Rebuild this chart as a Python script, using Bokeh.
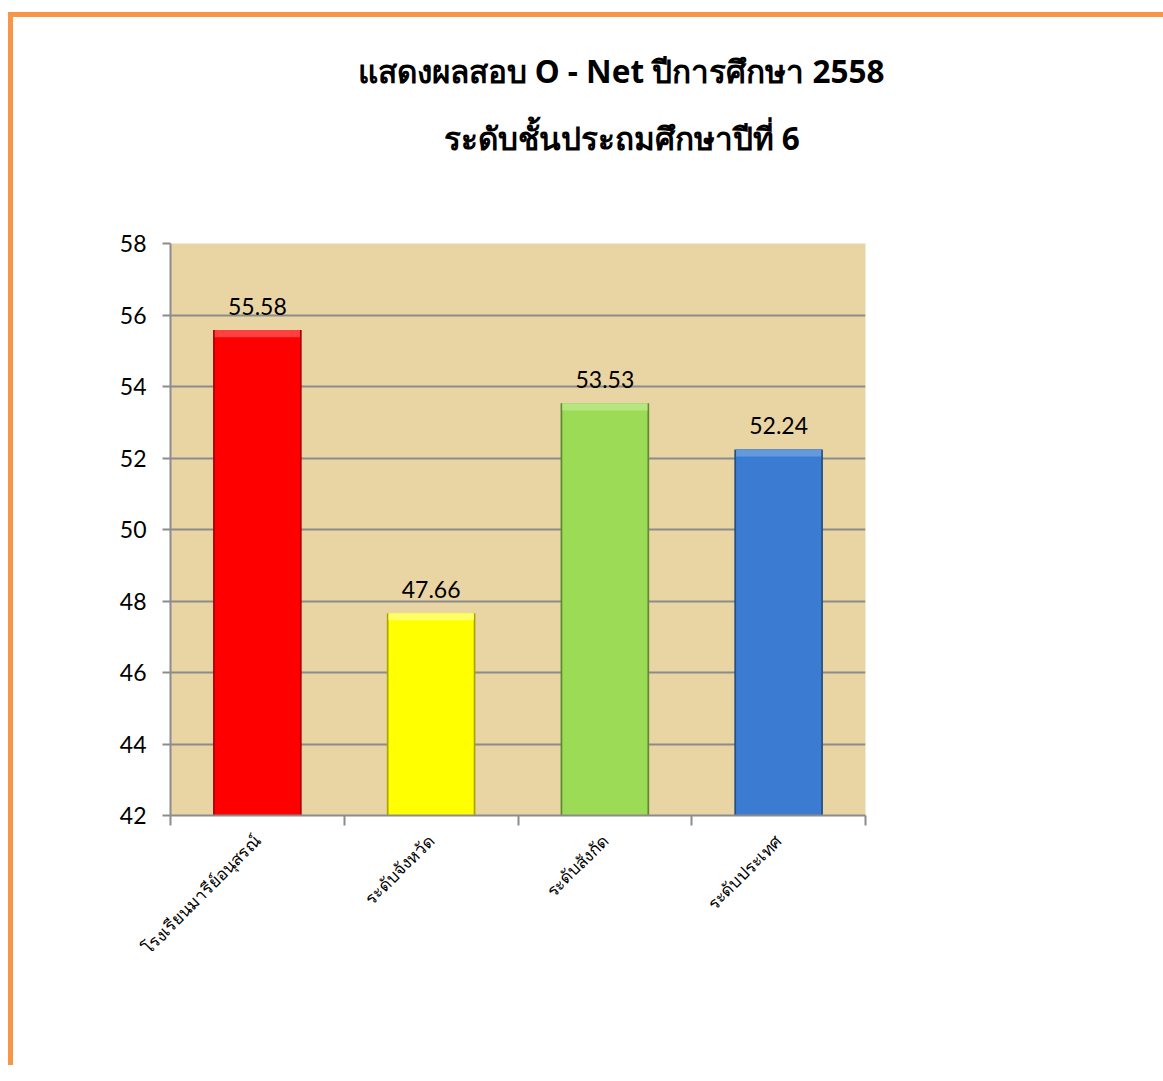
import math
from bokeh.plotting import figure
from bokeh.models import ColumnDataSource, FixedTicker, LabelSet, Title
from bokeh.core.properties import value
from bokeh.embed import file_html
from bokeh.resources import INLINE

categories = ["โรงเรียนมารีย์อนุสรณ์", "ระดับจังหวัด", "ระดับสังกัด", "ระดับประเทศ"]
scores = [55.58, 47.66, 53.53, 52.24]
score_labels = ["55.58", "47.66", "53.53", "52.24"]
bar_colors = ["#FF0000", "#FFFF00", "#9BDB55", "#3B7CD2"]
edge_colors = ["#A80000", "#A8A800", "#5F8A32", "#25507F"]
bevel_colors = ["#FF4040", "#FFFF66", "#B5E67F", "#6399DD"]
y_ticks = [42, 44, 46, 48, 50, 52, 54, 56, 58]
title_lines = ["แสดงผลสอบ O - Net ปีการศึกษา 2558", "ระดับชั้นประถมศึกษาปีที่ 6"]

positions = [i + 0.5 for i in range(len(categories))]
bevel_depth = 0.2
src = ColumnDataSource(dict(x=positions, top=scores, lab=score_labels,
                            fill=bar_colors, edge=edge_colors, bevel=bevel_colors,
                            bevel_bottom=[s - bevel_depth for s in scores]))

p = figure(frame_width=695, frame_height=572, min_border_left=157, min_border_top=226,
           min_border_bottom=250, min_border_right=298,
           x_range=(0, len(categories)), y_range=(y_ticks[0], y_ticks[-1]),
           output_backend="svg", toolbar_location=None)
p.styles = {"border-left": "5px solid #F79646", "border-top": "5px solid #F79646",
            "margin-top": "12px", "margin-left": "8px"}

p.background_fill_color = "#E9D5A4"
p.border_fill_color = "white"
p.outline_line_color = None

# bar body with darker edges and a lighter bevel at the top
p.vbar(x="x", top="top", bottom=y_ticks[0], width=0.51, source=src,
       fill_color="edge", line_color=None)
p.vbar(x="x", top="top", bottom=y_ticks[0], width=0.49, source=src,
       fill_color="fill", line_color=None)
p.vbar(x="x", top="top", bottom="bevel_bottom", width=0.49, source=src,
       fill_color="bevel", line_color=None)

labels = LabelSet(x="x", y="top", text="lab", source=src, text_align="center",
                  text_baseline="bottom", y_offset=15, text_font_size="23px",
                  text_font=value("Lato"), text_color="black")
p.add_layout(labels)

# y axis
p.yaxis.ticker = FixedTicker(ticks=y_ticks)
p.yaxis.major_label_text_font_size = "23px"
p.yaxis.major_label_text_font = "Lato"
p.yaxis.major_label_text_color = "black"
p.yaxis.axis_line_color = "#8C8C8C"
p.yaxis.axis_line_width = 2
p.yaxis.major_tick_line_color = "#8C8C8C"
p.yaxis.major_tick_line_width = 2
p.yaxis.major_tick_in = 0
p.yaxis.major_tick_out = 8
p.yaxis.minor_tick_line_color = None
p.yaxis.major_label_standoff = 16

# x axis
p.xaxis.ticker = FixedTicker(ticks=positions, minor_ticks=list(range(len(categories) + 1)))
p.xaxis.major_label_overrides = {pos: c for pos, c in zip(positions, categories)}
p.xaxis.major_label_orientation = math.pi / 4
p.xaxis.major_label_text_font_size = "17px"
p.xaxis.major_label_text_font = "Noto Sans"
p.xaxis.major_label_text_color = "black"
p.xaxis.axis_line_color = "#8C8C8C"
p.xaxis.axis_line_width = 2
p.xaxis.major_tick_line_color = None
p.xaxis.minor_tick_line_color = "#8C8C8C"
p.xaxis.minor_tick_line_width = 2
p.xaxis.minor_tick_in = 0
p.xaxis.minor_tick_out = 10
p.xaxis.major_label_standoff = 12

p.xgrid.grid_line_color = None
p.ygrid.ticker = FixedTicker(ticks=y_ticks)
p.ygrid.grid_line_color = "#8C8C8C"
p.ygrid.grid_line_width = 2

# titles: first added sits closest to the frame (a blank spacer first)
p.add_layout(Title(text=" ", align="left", text_font_size="2px", standoff=63), "above")
p.add_layout(Title(text=title_lines[1], align="left", offset=273, text_font_size="31.5px",
                   text_font="Noto Sans", text_font_style="bold", text_color="black",
                   standoff=35), "above")
p.add_layout(Title(text=title_lines[0], align="left", offset=187, text_font_size="31.5px",
                   text_font="Noto Sans", text_font_style="bold", text_color="black",
                   standoff=10), "above")

open("out.html", "w").write(file_html(p, INLINE))
